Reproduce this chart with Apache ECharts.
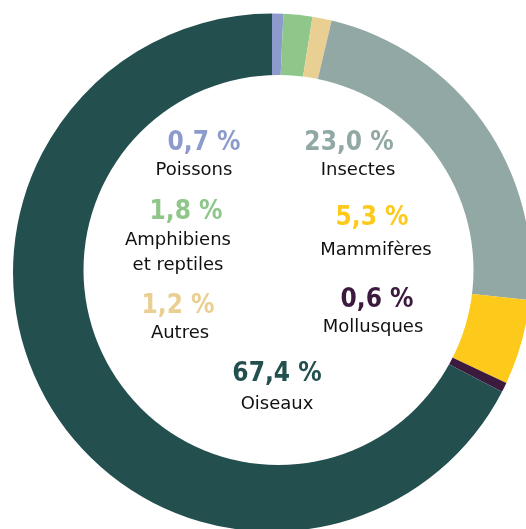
<!DOCTYPE html>
<html>
<head>
<meta charset="utf-8">
<script src="https://cdn.jsdelivr.net/npm/echarts@6/dist/echarts.min.js"></script>
<style>
    html, body { margin: 0; padding: 0; background: #fff; }
    #chart { width: 526px; height: 529px; }
</style>
</head>
<body>
<div id="chart"></div>
<script>
// groups, clockwise from 12 o'clock
const categories = ['Poissons', 'Amphibiens et reptiles', 'Autres', 'Insectes', 'Mammifères', 'Mollusques', 'Oiseaux'];
const labels = ['Poissons', 'Amphibiens\net reptiles', 'Autres', 'Insectes', 'Mammifères', 'Mollusques', 'Oiseaux'];
const shares = [0.7, 1.8, 1.2, 23.0, 5.3, 0.6, 67.4];
const colors = ['#8c9bcc', '#8fc68a', '#eacf92', '#91a8a4', '#fdca1c', '#3b1a3e', '#23504f'];

// where each label block sits inside the ring
const labelLayout = [
    { num: [204, 143], name: [194, 170] },
    { num: [186, 212], name: [178, 253] },
    { num: [178, 306], name: [180, 333] },
    { num: [349, 143], name: [358, 170] },
    { num: [372, 218], name: [376, 250] },
    { num: [377, 300], name: [373, 327] },
    { num: [277, 374], name: [277, 404] },
];

const fmt = (v) => v.toFixed(1).replace('.', ',') + ' %';

const chart = echarts.init(document.getElementById('chart'));

const texts = [];
categories.forEach((c, i) => {
    texts.push({
        type: 'text',
        x: labelLayout[i].num[0],
        y: labelLayout[i].num[1],
        z: 20,
        style: {
            text: fmt(shares[i]),
            fill: colors[i],
            font: 'bold 26px "DejaVu Sans Condensed", "DejaVu Sans"',
            textAlign: 'center',
            textVerticalAlign: 'middle',
        },
    });
    texts.push({
        type: 'text',
        x: labelLayout[i].name[0],
        y: labelLayout[i].name[1],
        z: 20,
        style: {
            text: labels[i],
            fill: '#111',
            font: '18px "DejaVu Sans"',
            lineHeight: 25,
            textAlign: 'center',
            textVerticalAlign: 'middle',
        },
    });
});

chart.setOption({
    animation: false,
    series: [
        {
            type: 'pie',
            center: [272, 272.6],
            radius: [0, 259],
            startAngle: 90,
            clockwise: true,
            silent: true,
            label: { show: false },
            labelLine: { show: false },
            data: categories.map((c, i) => ({
                name: c,
                value: shares[i],
                itemStyle: { color: colors[i] },
            })),
        },
    ],
    graphic: [
        {
            // inner hole of the ring (slightly off-centre, as in the source)
            type: 'circle',
            z: 10,
            shape: { cx: 278.5, cy: 270, r: 195 },
            style: { fill: '#fff' },
        },
        ...texts,
    ],
});
</script>
</body>
</html>
